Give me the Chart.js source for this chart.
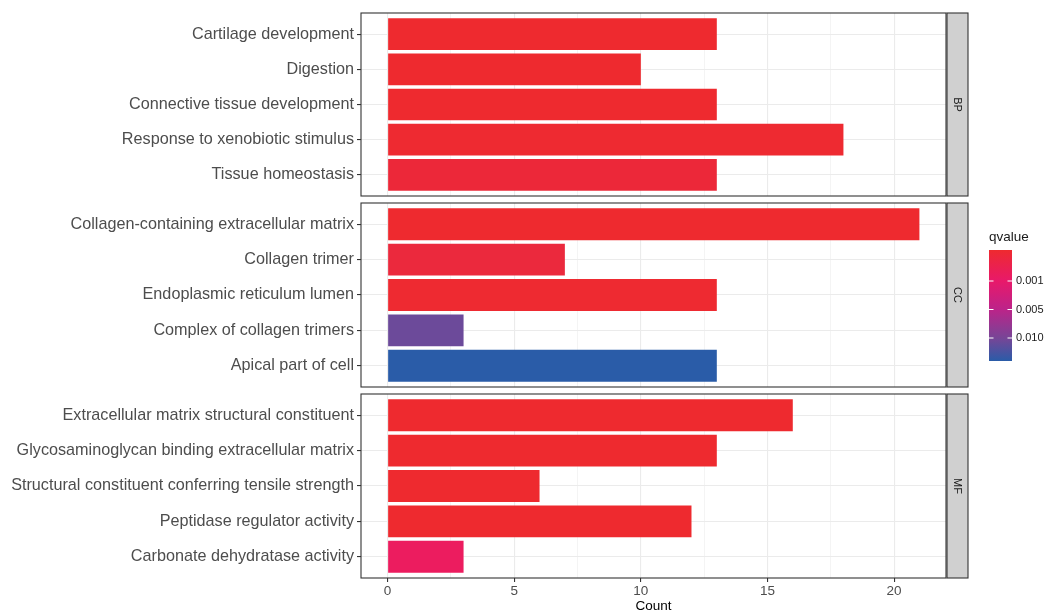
<!DOCTYPE html>
<html>
<head>
<meta charset="utf-8">
<script src="https://cdn.jsdelivr.net/npm/chart.js@4.4.1/dist/chart.umd.min.js"></script>
<style>
  html, body { margin: 0; padding: 0; background: #ffffff; }
  #wrap { position: relative; width: 1045px; height: 614px; background: #ffffff; overflow: hidden; }
  #wrap canvas { position: absolute; left: 0; top: 0; }
</style>
</head>
<body>
<div id="wrap">
  <canvas id="bp" width="1045" height="614"></canvas>
  <canvas id="cc" width="1045" height="614"></canvas>
  <canvas id="mf" width="1045" height="614"></canvas>
</div>
<script>
// GO enrichment terms per ontology, with gene counts
const bpTerms = ['Cartilage development', 'Digestion', 'Connective tissue development',
  'Response to xenobiotic stimulus', 'Tissue homeostasis'];
const bpCounts = [13, 10, 13, 18, 13];

const ccTerms = ['Collagen-containing extracellular matrix', 'Collagen trimer',
  'Endoplasmic reticulum lumen', 'Complex of collagen trimers', 'Apical part of cell'];
const ccCounts = [21, 7, 13, 3, 13];

const mfTerms = ['Extracellular matrix structural constituent',
  'Glycosaminoglycan binding extracellular matrix',
  'Structural constituent conferring tensile strength',
  'Peptidase regulator activity', 'Carbonate dehydratase activity'];
const mfCounts = [16, 13, 6, 12, 3];

// bar fill colours (qvalue colour scale)
const bpColors = ['#EE2A2F', '#EE2A2F', '#EE2A2F', '#EE2A31', '#EC2839'];
const ccColors = ['#EE2A2F', '#EB293D', '#EE2A31', '#6C4A9A', '#2A5CA8'];
const mfColors = ['#EE2A2F', '#EE2A2F', '#EE2A2F', '#EE2A2F', '#EC1C5F'];

const xTickValues = [0, 2.5, 5, 7.5, 10, 12.5, 15, 17.5, 20];
const legendTitle = 'qvalue';
const legendLabels = ['0.001', '0.005', '0.010'];

Chart.defaults.font.family = "'Liberation Sans', Arial, Helvetica, sans-serif";
Chart.defaults.animation = false;

const isMajor = v => Math.abs(v % 5) < 1e-9;

// panel border + facet strip
const facetPanel = {
  id: 'facetPanel',
  afterDraw(chart, args, opts) {
    const { ctx, chartArea: a } = chart;
    ctx.save();
    const sx = a.right + 1, sw = 21;
    ctx.fillStyle = '#D0D0D0';
    ctx.fillRect(sx, a.top, sw, a.bottom - a.top);
    ctx.strokeStyle = '#333333';
    ctx.lineWidth = 1.1;
    ctx.strokeRect(sx, a.top, sw, a.bottom - a.top);
    ctx.translate(sx + sw / 2, (a.top + a.bottom) / 2);
    ctx.rotate(Math.PI / 2);
    ctx.fillStyle = '#1A1A1A';
    ctx.font = "11px 'Liberation Sans', Arial, sans-serif";
    ctx.textAlign = 'center';
    ctx.textBaseline = 'middle';
    ctx.fillText(opts.label, 0, 0);
    ctx.restore();
    ctx.save();
    ctx.strokeStyle = '#333333';
    ctx.lineWidth = 1.1;
    ctx.strokeRect(a.left, a.top, a.right - a.left, a.bottom - a.top);
    ctx.restore();
  }
};

// continuous colour legend
const qLegend = {
  id: 'qLegend',
  afterDraw(chart, args, opts) {
    if (!opts.show) return;
    const ctx = chart.ctx;
    const x = 989, y = 250, w = 23, h = 111;
    ctx.save();
    ctx.fillStyle = '#1A1A1A';
    ctx.font = "13.5px 'Liberation Sans', Arial, sans-serif";
    ctx.textAlign = 'left';
    ctx.textBaseline = 'alphabetic';
    ctx.fillText(legendTitle, x, 241);
    const g = ctx.createLinearGradient(0, y, 0, y + h);
    g.addColorStop(0.0, '#EE2A2F');
    g.addColorStop(0.28, '#E8196A');
    g.addColorStop(0.53, '#BD2389');
    g.addColorStop(0.8, '#754697');
    g.addColorStop(1.0, '#2A5CA8');
    ctx.fillStyle = g;
    ctx.fillRect(x, y, w, h);
    const tickY = [281, 309.5, 338];
    ctx.strokeStyle = '#FFFFFF';
    ctx.lineWidth = 1;
    ctx.font = "11px 'Liberation Sans', Arial, sans-serif";
    ctx.textBaseline = 'middle';
    legendLabels.forEach((lab, i) => {
      const ty = tickY[i];
      ctx.beginPath();
      ctx.moveTo(x, ty); ctx.lineTo(x + 4.5, ty);
      ctx.moveTo(x + w - 4.5, ty); ctx.lineTo(x + w, ty);
      ctx.stroke();
      ctx.fillStyle = '#1A1A1A';
      ctx.fillText(lab, x + w + 4, ty);
    });
    ctx.restore();
  }
};

function makePanel(id, strip, terms, counts, colors, padTop, padBottom, showX, showLegend) {
  const data = counts.map((c, i) => ({ x: c, y: i }));
  return new Chart(document.getElementById(id), {
    type: 'bar',
    data: {
      datasets: [{
        data: data,
        backgroundColor: colors,
        borderWidth: 0,
        barPercentage: 0.9,
        categoryPercentage: 1.0
      }]
    },
    options: {
      indexAxis: 'y',
      responsive: false,
      maintainAspectRatio: false,
      layout: { padding: { left: 0, right: 99, top: padTop, bottom: padBottom } },
      plugins: {
        legend: { display: false },
        tooltip: { enabled: false },
        facetPanel: { label: strip },
        qLegend: { show: showLegend }
      },
      scales: {
        x: {
          type: 'linear',
          min: -1.05,
          max: 22.05,
          afterBuildTicks: s => { s.ticks = xTickValues.map(v => ({ value: v })); },
          afterFit: s => { s.height = showX ? 36 : 0; },
          border: { display: false },
          grid: {
            color: '#EBEBEB',
            lineWidth: c => (c.tick && isMajor(c.tick.value)) ? 1.1 : 0.55,
            drawTicks: showX,
            tickLength: 4,
            tickWidth: 1.1,
            tickColor: c => (c.tick && isMajor(c.tick.value)) ? '#333333' : 'rgba(0,0,0,0)'
          },
          ticks: {
            display: showX,
            autoSkip: false,
            maxRotation: 0,
            padding: 1.5,
            color: '#4D4D4D',
            font: { size: 13.5 },
            callback: v => isMajor(v) ? String(v) : ''
          },
          title: {
            display: showX,
            text: 'Count',
            color: '#000000',
            font: { size: 13.5 },
            padding: 0
          }
        },
        y: {
          type: 'linear',
          reverse: true,
          offset: false,
          min: -0.6,
          max: 4.6,
          afterBuildTicks: s => { s.ticks = terms.map((t, i) => ({ value: i })); },
          afterFit: s => { s.width = 361; },
          border: { display: false },
          grid: {
            offset: false,
            color: '#EBEBEB',
            lineWidth: 1.1,
            drawTicks: true,
            tickLength: 4,
            tickWidth: 1.1,
            tickColor: '#333333'
          },
          ticks: {
            autoSkip: false,
            padding: 3,
            color: '#4D4D4D',
            font: { size: 16.2 },
            callback: v => terms[v]
          }
        }
      }
    },
    plugins: [facetPanel, qLegend]
  });
}

makePanel('bp', 'BP', bpTerms, bpCounts, bpColors, 13, 614 - 196, false, false);
makePanel('cc', 'CC', ccTerms, ccCounts, ccColors, 203, 614 - 387, false, true);
makePanel('mf', 'MF', mfTerms, mfCounts, mfColors, 394, 0, true, false);
</script>
</body>
</html>
